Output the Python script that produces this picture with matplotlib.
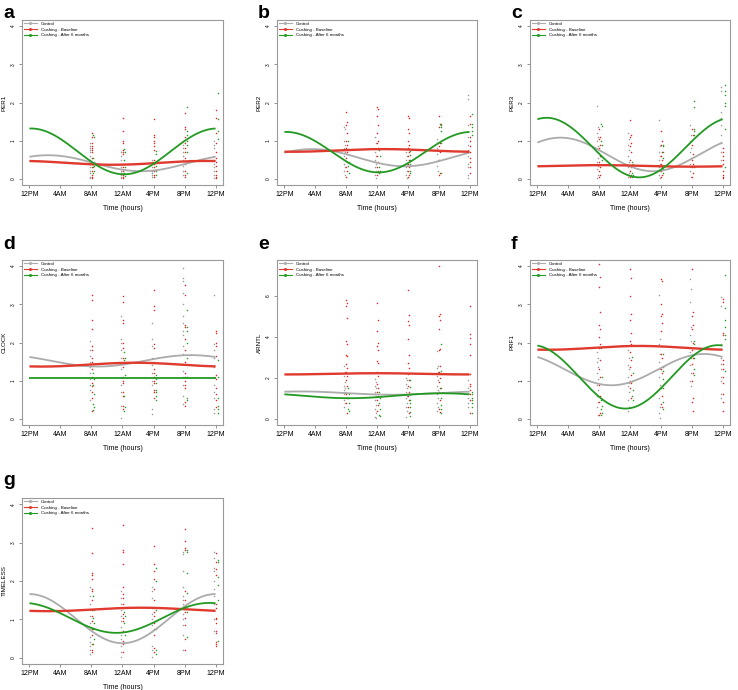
import numpy as np
import matplotlib
matplotlib.use('Agg')
import matplotlib.pyplot as plt
from matplotlib.lines import Line2D

plt.rcParams['font.family'] = ['Liberation Sans', 'DejaVu Sans']

tick_labels = ['12PM', '4AM', '8AM', '12AM', '4PM', '8PM', '12PM']
sample_pos = [2, 3, 4, 5, 6]  # 8AM, 12AM, 4PM, 8PM, 12PM
groups = ['Control', 'Cushing - Baseline', 'Cushing - After 6 months']

# cosinor fits: (mesor, amplitude, peak position) per group
per1_fit = [(0.41, 0.21, 0.6), (0.42, 0.05, 5.7), (0.72, 0.60, 0.05)]
per2_fit = [(0.555, 0.225, 0.9), (0.745, 0.035, 3.2), (0.70, 0.53, 0.05)]
per3_fit = [(0.64, 0.44, 0.75), (0.34, 0.02, 2.0), (0.82, 0.78, 0.3)]
clock_fit = [(1.52, 0.15, 5.2), (1.42, 0.05, 3.4), (1.08, 0.0, 0.0)]
arntl_fit = [(1.26, 0.08, 0.5), (2.20, 0.03, 3.0), (1.13, 0.12, 5.1)]
prf1_fit = [(1.29, 0.41, 5.4), (1.86, 0.05, 3.3), (1.10, 0.83, 5.85)]
timeless_fit = [(1.02, 0.64, 0.0), (1.26, 0.045, 3.6), (1.04, 0.39, 5.8)]

# individual samples per time point (8AM, 12AM, 4PM, 8PM, 12PM)
per1_ctrl = [[0.95, 0.85, 0.8, 0.75, 0.7, 0.6, 0.5, 0.45, 0.4, 0.3, 0.2, 0.15, 0.05, 0.02],
             [0.7, 0.6, 0.5, 0.4, 0.3, 0.2, 0.15, 0.1, 0.05, 0.02],
             [0.5, 0.45, 0.4, 0.3, 0.2, 0.15, 0.1, 0.05],
             [1.0, 0.9, 0.8, 0.7, 0.6, 0.5, 0.35, 0.2, 0.1],
             [1.0, 0.9, 0.8, 0.6, 0.5, 0.4, 0.3, 0.2, 0.1, 0.02]]
per1_base = [[1.2, 1.1, 0.95, 0.85, 0.8, 0.75, 0.7, 0.55, 0.45, 0.4, 0.3, 0.2, 0.1, 0.05, 0.02],
             [1.6, 1.25, 1.0, 0.95, 0.75, 0.7, 0.65, 0.4, 0.3, 0.2, 0.1, 0.05, 0.02],
             [1.58, 1.15, 1.1, 1.0, 0.95, 0.85, 0.75, 0.5, 0.4, 0.3, 0.2, 0.1, 0.05],
             [1.72, 1.35, 1.3, 1.1, 0.95, 0.8, 0.7, 0.55, 0.4, 0.2, 0.1, 0.05],
             [1.8, 1.6, 1.2, 0.95, 0.7, 0.55, 0.45, 0.35, 0.2, 0.1, 0.05, 0.02]]
per1_6m = [[1.15, 1.1, 0.55, 0.45, 0.4, 0.35, 0.3, 0.2, 0.15],
           [0.78, 0.7, 0.5, 0.3, 0.15, 0.08],
           [0.72, 0.65, 0.45, 0.35, 0.2, 0.1],
           [1.88, 1.25, 1.15, 1.0, 0.9, 0.7, 0.45, 0.15],
           [2.25, 1.58, 1.25, 1.05]]

per2_ctrl = [[1.35, 1.3, 1.0, 0.9, 0.8, 0.7, 0.6, 0.5, 0.4, 0.3, 0.2, 0.1],
             [1.1, 0.95, 0.7, 0.6, 0.5, 0.4, 0.3, 0.2, 0.1, 0.02],
             [0.7, 0.6, 0.5, 0.4, 0.3, 0.2, 0.1, 0.02],
             [1.05, 0.95, 0.8, 0.75, 0.65, 0.5, 0.35, 0.2],
             [2.2, 2.1, 1.4, 1.1, 0.9, 0.75, 0.6, 0.4, 0.3, 0.1, 0.02]]
per2_base = [[1.75, 1.5, 1.4, 1.2, 1.0, 0.9, 0.8, 0.7, 0.55, 0.45, 0.3, 0.2, 0.05],
             [1.88, 1.82, 1.65, 1.4, 1.2, 1.0, 0.95, 0.8, 0.6, 0.45, 0.3, 0.2, 0.1],
             [1.65, 1.6, 1.3, 1.2, 1.0, 0.9, 0.8, 0.7, 0.6, 0.5, 0.4, 0.3, 0.2, 0.1, 0.05],
             [1.65, 1.45, 1.35, 0.95, 0.85, 0.7, 0.5, 0.15, 0.1],
             [1.65, 1.45, 1.1, 1.0, 0.85, 0.7, 0.55, 0.45, 0.3, 0.15]]
per2_6m = [[1.0, 0.45, 0.35, 0.15],
           [0.75, 0.6, 0.3, 0.2, 0.15],
           [0.72, 0.62, 0.5, 0.4, 0.2, 0.15],
           [1.45, 1.4, 1.35, 1.25, 0.95, 0.15],
           [1.7, 1.45, 1.35, 1.25, 1.15]]

per3_ctrl = [[1.92, 1.35, 1.2, 1.1, 1.0, 0.85, 0.7, 0.55, 0.45, 0.35, 0.25, 0.1, 0.02],
             [1.2, 1.05, 0.9, 0.75, 0.6, 0.45, 0.3, 0.15, 0.05],
             [1.55, 0.85, 0.7, 0.6, 0.5, 0.4, 0.3, 0.2, 0.1, 0.02],
             [1.4, 1.15, 1.0, 0.8, 0.7, 0.55, 0.4, 0.3, 0.2, 0.05],
             [2.4, 2.3, 1.75, 1.6, 1.4, 1.15, 0.95, 0.7, 0.5]]
per3_base = [[1.3, 1.1, 1.05, 0.9, 0.8, 0.6, 0.45, 0.3, 0.2, 0.1, 0.05],
             [1.55, 1.15, 1.1, 0.95, 0.85, 0.7, 0.5, 0.3, 0.2, 0.1, 0.05],
             [1.25, 1.0, 0.9, 0.7, 0.6, 0.5, 0.4, 0.3, 0.2, 0.1, 0.05],
             [1.3, 1.15, 0.9, 0.65, 0.5, 0.4, 0.3, 0.15, 0.05],
             [0.8, 0.7, 0.6, 0.5, 0.4, 0.2, 0.1, 0.05, 0.02]]
per3_6m = [[1.45, 1.38, 1.0, 0.9, 0.6, 0.5],
           [0.45, 0.4, 0.15, 0.1, 0.05],
           [0.9, 0.85, 0.7, 0.55, 0.35, 0.25, 0.15],
           [2.05, 1.88, 1.3, 1.25, 1.15, 0.35, 0.3],
           [2.45, 2.3, 2.2, 2.0, 1.9, 1.3, 0.3]]

clock_ctrl = [[2.05, 1.8, 1.65, 1.5, 1.35, 1.2, 1.05, 0.9, 0.75, 0.5],
              [2.7, 2.1, 2.0, 1.8, 1.6, 1.45, 1.3, 1.1, 0.9, 0.7, 0.35, 0.02],
              [2.52, 2.1, 1.9, 1.6, 1.4, 1.2, 1.0, 0.9, 0.25, 0.12],
              [3.95, 3.7, 3.6, 3.3, 3.0, 2.7, 2.5, 2.3, 2.2, 1.9, 1.7, 1.25, 1.1, 0.9, 0.6, 0.4],
              [3.25, 1.95, 1.8, 1.6, 1.35, 1.1, 0.9, 0.7, 0.55, 0.25, 0.15]]
clock_base = [[3.25, 3.1, 2.6, 2.35, 1.9, 1.8, 1.6, 1.5, 1.3, 1.1, 0.95, 0.85, 0.7, 0.55, 0.2],
              [3.22, 3.05, 2.6, 2.5, 2.0, 1.85, 1.6, 1.35, 1.1, 1.0, 0.95, 0.7, 0.6, 0.35, 0.25],
              [3.38, 2.95, 2.85, 1.95, 1.85, 1.5, 1.3, 1.2, 1.1, 1.0, 0.95, 0.75, 0.7, 0.55],
              [3.5, 3.25, 2.45, 2.4, 2.1, 1.8, 1.5, 1.2, 1.1, 1.0, 0.9, 0.8, 0.45, 0.35],
              [2.3, 2.25, 2.0, 1.9, 1.65, 1.15, 1.05, 0.8, 0.65, 0.5, 0.3]]
clock_6m = [[1.2, 1.05, 0.88, 0.65, 0.4, 0.3, 0.22],
            [1.75, 1.6, 1.55, 1.15, 0.6, 0.3, 0.2],
            [1.15, 1.05, 0.95, 0.75, 0.7, 0.6, 0.5],
            [2.85, 2.4, 2.3, 1.98, 1.6, 1.1, 0.55, 0.5],
            [1.55, 1.1, 0.55, 0.35, 0.25, 0.15]]

arntl_ctrl = [[2.6, 2.3, 2.1, 1.8, 1.6, 1.5, 1.4, 1.3, 1.2, 1.0, 0.9, 0.8, 0.6],
              [1.95, 1.8, 1.6, 1.5, 1.3, 1.1, 0.9, 0.7, 0.5, 0.3, 0.1, 0.02],
              [2.0, 1.9, 1.7, 1.5, 1.3, 1.1, 1.0, 0.8, 0.6, 0.4, 0.1],
              [3.3, 2.6, 2.5, 2.3, 2.1, 1.9, 1.6, 1.4, 1.2, 1.0, 0.8, 0.6, 0.4],
              [1.9, 1.5, 1.2, 1.0, 0.8, 0.6]]
arntl_base = [[5.8, 5.65, 5.5, 4.95, 3.8, 3.65, 3.1, 3.05, 2.7, 2.5, 2.3, 2.1, 1.9, 1.6, 1.2, 1.0, 0.8, 0.3],
              [5.68, 4.85, 4.3, 3.7, 3.55, 3.35, 2.85, 2.75, 2.3, 2.1, 1.7, 1.5, 1.3, 1.1, 0.9, 0.7, 0.4],
              [6.3, 5.05, 4.8, 4.6, 3.9, 3.1, 2.75, 2.5, 2.2, 1.9, 1.6, 1.3, 1.1, 0.9, 0.6, 0.3],
              [7.45, 5.1, 5.0, 4.85, 4.4, 3.4, 3.35, 2.6, 2.3, 2.0, 1.8, 1.5, 1.3, 0.9, 0.5, 0.35],
              [5.5, 4.15, 3.95, 3.65, 3.1, 2.2, 1.7, 1.6, 1.4, 1.2, 0.9, 0.3]]
arntl_6m = [[1.5, 1.2, 1.0, 0.8, 0.5, 0.4],
            [1.3, 1.0, 0.8, 0.5, 0.2, 0.15],
            [1.9, 1.55, 1.2, 0.9, 0.8, 0.6, 0.35, 0.15],
            [3.65, 2.35, 1.5, 1.0, 0.7, 0.5, 0.3],
            [1.3, 1.2, 1.0, 0.9, 0.8, 0.6, 0.3]]

prf1_ctrl = [[1.75, 1.6, 1.5, 1.35, 1.2, 1.05, 0.9, 0.75, 0.6, 0.45, 0.3, 0.1],
             [1.8, 1.6, 1.4, 1.3, 1.1, 0.95, 0.85, 0.7, 0.5, 0.3, 0.2],
             [3.25, 2.1, 1.95, 1.7, 1.5, 1.3, 1.1, 0.9, 0.55, 0.3, 0.15, 0.02],
             [3.65, 3.4, 3.05, 2.4, 2.2, 2.05, 1.75, 1.6, 1.4, 1.2, 1.0, 0.85],
             [3.2, 2.95, 1.95, 1.6, 1.45, 1.3, 1.1, 1.0, 0.65, 0.55]]
prf1_base = [[4.05, 3.72, 3.45, 2.8, 2.45, 2.35, 2.15, 1.95, 1.85, 1.55, 1.3, 1.1, 0.9, 0.6, 0.45, 0.15, 0.1],
             [3.92, 3.7, 3.22, 2.75, 2.6, 2.25, 2.05, 1.95, 1.75, 1.55, 1.35, 1.15, 1.0, 0.95, 0.8, 0.55],
             [3.65, 3.6, 3.0, 2.75, 2.7, 2.5, 2.3, 1.9, 1.7, 1.6, 1.3, 1.2, 0.8, 0.6, 0.4, 0.3],
             [3.93, 2.8, 2.7, 2.45, 2.35, 2.0, 1.8, 1.6, 1.45, 1.2, 1.0, 0.55, 0.45, 0.2],
             [3.15, 3.05, 2.25, 2.2, 1.55, 1.45, 1.3, 1.1, 0.95, 0.65, 0.45, 0.2]]
prf1_6m = [[1.85, 1.1, 0.5, 0.35, 0.25, 0.15, 0.1],
           [1.62, 1.2, 1.0, 0.75, 0.6, 0.5],
           [1.7, 1.35, 1.25, 1.05, 0.8, 0.45, 0.25],
           [2.05, 1.95, 1.85, 1.6, 1.3, 1.15],
           [3.78, 2.9, 2.6, 2.4, 2.2, 2.1, 1.25]]

timeless_ctrl = [[1.85, 1.6, 1.4, 1.25, 1.1, 0.9, 0.75, 0.55, 0.4, 0.3, 0.2, 0.1],
                 [1.75, 1.55, 1.4, 1.25, 1.1, 0.95, 0.8, 0.6, 0.5, 0.3, 0.15, 0.02],
                 [1.85, 1.75, 1.55, 1.3, 1.15, 1.0, 0.85, 0.7, 0.3, 0.2, 0.02],
                 [2.75, 2.7, 2.25, 1.85, 1.6, 1.5, 1.4, 1.3, 1.15, 1.0, 0.85, 0.6, 0.2],
                 [2.75, 2.6, 2.35, 2.25, 2.0, 1.8, 1.6, 1.4, 1.25, 1.0, 0.7]]
timeless_base = [[3.38, 2.72, 2.2, 2.15, 2.05, 1.8, 1.75, 1.5, 1.25, 1.1, 0.95, 0.75, 0.6, 0.35, 0.2, 0.15],
                 [3.45, 2.8, 2.75, 2.45, 1.85, 1.65, 1.55, 1.4, 1.3, 1.15, 1.05, 0.95, 0.7, 0.45, 0.35, 0.15],
                 [2.9, 2.45, 2.25, 2.05, 1.8, 1.5, 1.3, 1.2, 1.1, 0.9, 0.75, 0.6, 0.25, 0.15],
                 [3.35, 3.05, 2.85, 2.8, 1.75, 1.5, 1.35, 1.2, 1.05, 0.85, 0.5, 0.2],
                 [2.72, 2.5, 2.3, 2.15, 1.4, 1.3, 1.05, 1.0, 0.9, 0.7, 0.65, 0.4, 0.35, 0.3]]
timeless_6m = [[1.6, 1.25, 1.05, 0.9, 0.75, 0.5, 0.35],
               [1.2, 1.1, 0.9, 0.6],
               [2.35, 2.0, 1.25, 0.95, 0.75, 0.2, 0.1],
               [2.8, 2.75, 2.2, 1.7, 1.2, 0.55],
               [2.55, 2.5, 2.1, 1.9, 1.5, 0.45]]

panels = [
    ('a', 'PER1', per1_fit, [per1_ctrl, per1_base, per1_6m], 4),
    ('b', 'PER2', per2_fit, [per2_ctrl, per2_base, per2_6m], 4),
    ('c', 'PER3', per3_fit, [per3_ctrl, per3_base, per3_6m], 4),
    ('d', 'CLOCK', clock_fit, [clock_ctrl, clock_base, clock_6m], 4),
    ('e', 'ARNTL', arntl_fit, [arntl_ctrl, arntl_base, arntl_6m], 7.46),
    ('f', 'PRF1', prf1_fit, [prf1_ctrl, prf1_base, prf1_6m], 4),
    ('g', 'TIMELESS', timeless_fit, [timeless_ctrl, timeless_base, timeless_6m], 4),
]

W, H = 738, 690
# axes boxes in pixels: left, top, right, bottom
boxes = [(22, 20, 223, 185), (277, 20, 477, 185), (530, 20, 730, 185),
         (22, 260, 223, 425), (277, 260, 477, 425), (530, 260, 730, 425),
         (22, 498, 223, 664)]
# panel letter baselines in pixels, per row top
letter_base = {20: 18, 260: 249, 498: 485}

pt_colors = ['#9a9a9a', '#e8221a', '#1f9e1f']
line_colors = ['#ababab', '#e0392d', '#229a22']
line_widths = [1.3, 1.7, 1.3]
x_off = [-0.05, 0.015, 0.07]

fig = plt.figure(figsize=(W / 100, H / 100), dpi=100)

xs = np.linspace(0, 6, 300)
for (letter, gene, fit, samples, ymax), (l, t, r, b) in zip(panels, boxes):
    ax = fig.add_axes([l / W, 1 - b / H, (r - l) / W, (b - t) / H])
    for g in range(3):
        for pos, vals in zip(sample_pos, samples[g]):
            jit = np.array([0.012 if i % 2 else -0.006 for i in range(len(vals))])
            ax.scatter(pos + x_off[g] + jit, vals, s=1.2, color=pt_colors[g],
                       linewidths=0, zorder=2)
    for g in range(3):
        m, a, p = fit[g]
        ax.plot(xs, m + a * np.cos(2 * np.pi * (xs - p) / 6), color=line_colors[g],
                lw=line_widths[g], zorder=3, solid_capstyle='butt')

    pad = 0.04 * ymax
    ax.set_ylim(-pad, ymax + pad)
    ax.set_xlim(-0.24, 6.24)
    ax.set_xticks(range(7))
    ax.set_xticklabels(tick_labels, fontsize=5)
    if ymax > 5:
        ax.set_yticks([0, 2, 4, 6])
    else:
        ax.set_yticks([0, 1, 2, 3, 4])
    for lab in ax.get_yticklabels():
        lab.set_rotation(90)
        lab.set_va('center')
        lab.set_fontsize(3.5)
    ax.tick_params(direction='out', length=2.5, width=0.5, color='#666666', pad=2)
    for sp in ax.spines.values():
        sp.set_color('#9a9a9a')
        sp.set_linewidth(0.8)
    ax.set_ylabel(gene, fontsize=4.5, labelpad=3)
    ax.set_xlabel('Time (hours)', fontsize=5, labelpad=5)

    handles = [Line2D([], [], color=line_colors[g], lw=0.8, marker='o', markersize=1.2)
               for g in range(3)]
    ax.legend(handles, groups, loc='upper left', fontsize=3.2, frameon=False,
              borderaxespad=0.3, handlelength=3, handletextpad=0.8, labelspacing=0.35,
              borderpad=0.1)

    fig.text((l - 19) / W, 1 - letter_base[t] / H, letter,
             fontsize=14, fontweight='bold', va='baseline', ha='left')

fig.savefig('out.png', dpi=100)
